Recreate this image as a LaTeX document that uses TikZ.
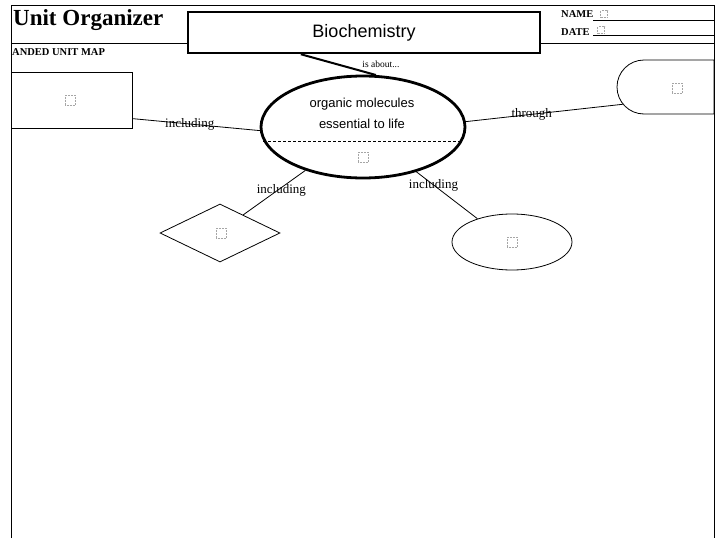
\documentclass[tikz,border=0pt]{standalone}
\usepackage{fontspec}
\setmainfont{Liberation Serif}
\newfontfamily\comic{Liberation Sans}
\usetikzlibrary{shapes.geometric,shapes.misc}

\begin{document}
\begin{tikzpicture}[
x=1pt,y=-1pt,
every node/.style={inner sep=0pt},
frame/.style={line width=1pt},
topic/.style={draw,line width=2.5pt,fill=white,minimum width=352pt,minimum height=41pt,font=\comic\fontsize{18}{22}\selectfont},
idea/.style={ellipse,draw,line width=2.8pt,minimum width=204pt,minimum height=102pt},
detail/.style={draw,line width=0.8pt},
ph/.style={draw=gray!70,densely dotted,line width=0.5pt,minimum size=10pt},
lbl/.style={font=\fontsize{13}{15}\selectfont},
hdr/.style={font=\bfseries\fontsize{10.5}{12}\selectfont,anchor=base west},
link/.style={line width=0.8pt}
]
\useasboundingbox (0,0) rectangle (720,538);
\draw[frame] (11,538) -- (11,5) -- (714,5) -- (714,538);
\draw[frame] (11,43) -- (188,43);
\draw[frame] (540,43) -- (714,43);
\node[anchor=base west,font=\bfseries\fontsize{23}{26}\selectfont] (title) at (13,25) {Unit Organizer};
\node[hdr] (name) at (561,17.5) {NAME};
\node[hdr] (date) at (561,35) {DATE};
\draw[thin] (593,20) -- (714,20);
\draw[thin] (593,35.5) -- (714,35.5);
\node[ph,minimum size=7pt] (namePh) at (604,14) {};
\node[ph,minimum size=7pt] (datePh) at (601,30) {};
\node[hdr] (mapTitle) at (12,55) {ANDED UNIT MAP};

\node[topic] (topic) at (364,32.5) {Biochemistry};
\node[idea] (main) at (363,127) {};
\node[align=center,font=\comic\fontsize{13}{21}\selectfont] (mainText) at (362,113) {organic molecules\\essential to life};
\draw[densely dashed,line width=0.8pt] (main.188) -- (main.352);
\node[ph] (mainPh) at (363,157) {};

\node[detail,minimum width=121pt,minimum height=56pt] (left) at (71.5,100) {};
\node[ph] (leftPh) at (70,100) {};
\node[detail,rounded rectangle,rounded rectangle right arc=none,minimum width=97pt,minimum height=54pt] (right) at (665.5,87) {};
\node[ph] (rightPh) at (677,88) {};
\node[detail,diamond,minimum width=120pt,minimum height=58pt] (dia) at (220,233) {};
\node[ph] (diaPh) at (221,233) {};
\node[detail,ellipse,minimum width=120pt,minimum height=56pt] (oval) at (512,242) {};
\node[ph] (ovalPh) at (512,242) {};

\draw[line width=2pt] (topic.199.2) -- (main.76.5) node[at end,xshift=5pt,yshift=11pt,font=\fontsize{9.5}{11}\selectfont] {is about...};
\draw[link] (left.-17.6) -- (main.182) node[lbl,pos=0.45] {including};
\draw[link] (main.3) -- (right.202.5) node[lbl,pos=0.42] {through};
\draw[link] (main.217.5) -- (dia.38) node[lbl,pos=0.45,xshift=4pt] {including};
\draw[link] (main.320) -- (oval.146) node[lbl,pos=0.28] {including};
\end{tikzpicture}
\end{document}
